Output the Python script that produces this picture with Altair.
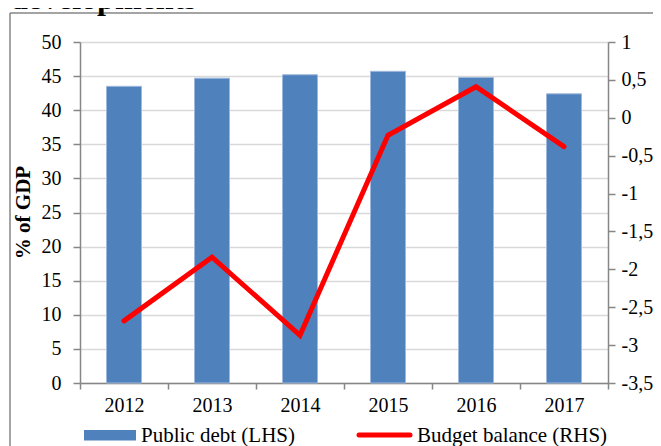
import altair as alt
import pandas as pd

years = ["2012", "2013", "2014", "2015", "2016", "2017"]
public_debt = [43.5, 44.7, 45.2, 45.7, 44.8, 42.4]
budget_balance = [-2.68, -1.84, -2.87, -0.23, 0.41, -0.38]
left_ticks = [0, 5, 10, 15, 20, 25, 30, 35, 40, 45, 50]
right_ticks = [1, 0.5, 0, -0.5, -1, -1.5, -2, -2.5, -3, -3.5]
legend_labels = ["Public debt (LHS)", "Budget balance (RHS)"]
heading = "developments"
y_title = "% of GDP"

df = pd.DataFrame({"year": years, "debt": public_debt, "balance": budget_balance})

FONT = "Liberation Serif"
AXIS_GRAY = "#868686"
BLUE = "#4F81BD"
RED = "#FF0000"
FS = 20

x_enc = alt.X(
    "year:N",
    sort=years,
    scale=alt.Scale(paddingInner=0, paddingOuter=0),
    axis=alt.Axis(
        title=None, labelAngle=0, tickBand="extent", tickSize=6, tickColor=AXIS_GRAY,
        tickWidth=1.5, domainColor=AXIS_GRAY, domainWidth=1.5, labelPadding=6,
        labelFont=FONT, labelFontSize=FS, labelColor="black", grid=False,
    ),
)

bars = alt.Chart(df).mark_bar(size=35, color=BLUE, stroke="#9fb9dc", strokeWidth=1).encode(
    x=x_enc,
    y=alt.Y(
        "debt:Q",
        scale=alt.Scale(domain=[0, 50], nice=False, zero=True),
        axis=alt.Axis(
            values=left_ticks, grid=True, gridColor="#d9d9d9", gridWidth=1.5,
            domainColor=AXIS_GRAY, domainWidth=1.5, tickColor=AXIS_GRAY, tickWidth=1.5,
            tickSize=7, labelPadding=12, labelFont=FONT, labelFontSize=FS,
            labelColor="black", title=y_title, titleFont=FONT, titleFontSize=21,
            titleFontWeight="bold", titleColor="black", titleX=-47, titleY=170,
        ),
    ),
)

line = alt.Chart(df).mark_line(color=RED, strokeWidth=5, strokeCap="round", strokeJoin="miter").encode(
    x=alt.X("year:N", sort=years),
    y=alt.Y(
        "balance:Q",
        scale=alt.Scale(domain=[-3.5, 1], nice=False, zero=False),
        axis=alt.Axis(
            orient="right", values=right_ticks, grid=False,
            labelExpr="replace(toString(datum.value), '.', ',')",
            domainColor=AXIS_GRAY, domainWidth=1.5, tickColor=AXIS_GRAY, tickWidth=1.5,
            tickSize=7, labelPadding=6, labelFont=FONT, labelFontSize=FS,
            labelColor="black", title=None,
        ),
    ),
)

one = alt.Data(values=[{"k": 1}])

border_left = alt.Chart(one).mark_rule(color=AXIS_GRAY, strokeWidth=1.5).encode(
    x=alt.value(-70), y=alt.value(-29), y2=alt.value(420)
)
border_top = alt.Chart(one).mark_rule(color=AXIS_GRAY, strokeWidth=1.5).encode(
    x=alt.value(-70), x2=alt.value(600), y=alt.value(-29)
)
title_text = alt.Chart(one).mark_text(
    font=FONT, fontSize=32, fontWeight="bold", align="left", baseline="alphabetic", color="black"
).encode(x=alt.value(-70), y=alt.value(-33), text=alt.value(heading))

leg_rect = alt.Chart(one).mark_rect(color=BLUE).encode(
    x=alt.value(4), x2=alt.value(56), y=alt.value(388), y2=alt.value(398.5)
)
leg_line = alt.Chart(one).mark_rule(color=RED, strokeWidth=5, strokeCap="round").encode(
    x=alt.value(279), x2=alt.value(330), y=alt.value(393)
)
leg_text1 = alt.Chart(one).mark_text(
    font=FONT, fontSize=21, align="left", baseline="middle", color="black"
).encode(x=alt.value(61), y=alt.value(393.5), text=alt.value(legend_labels[0]))
leg_text2 = alt.Chart(one).mark_text(
    font=FONT, fontSize=21, align="left", baseline="middle", color="black"
).encode(x=alt.value(337), y=alt.value(393.5), text=alt.value(legend_labels[1]))

chart = (
    alt.layer(bars, line, border_left, border_top, title_text, leg_rect, leg_line, leg_text1, leg_text2)
    .resolve_scale(y="independent")
    .properties(
        width=528, height=341,
        autosize=alt.AutoSizeParams(type="none"),
        padding={"left": 72, "top": 34, "right": 45, "bottom": 64},
        background="white",
    )
    .configure_view(stroke=None)
)

chart.save("out.html", embed_options={"renderer": "svg", "actions": False})
